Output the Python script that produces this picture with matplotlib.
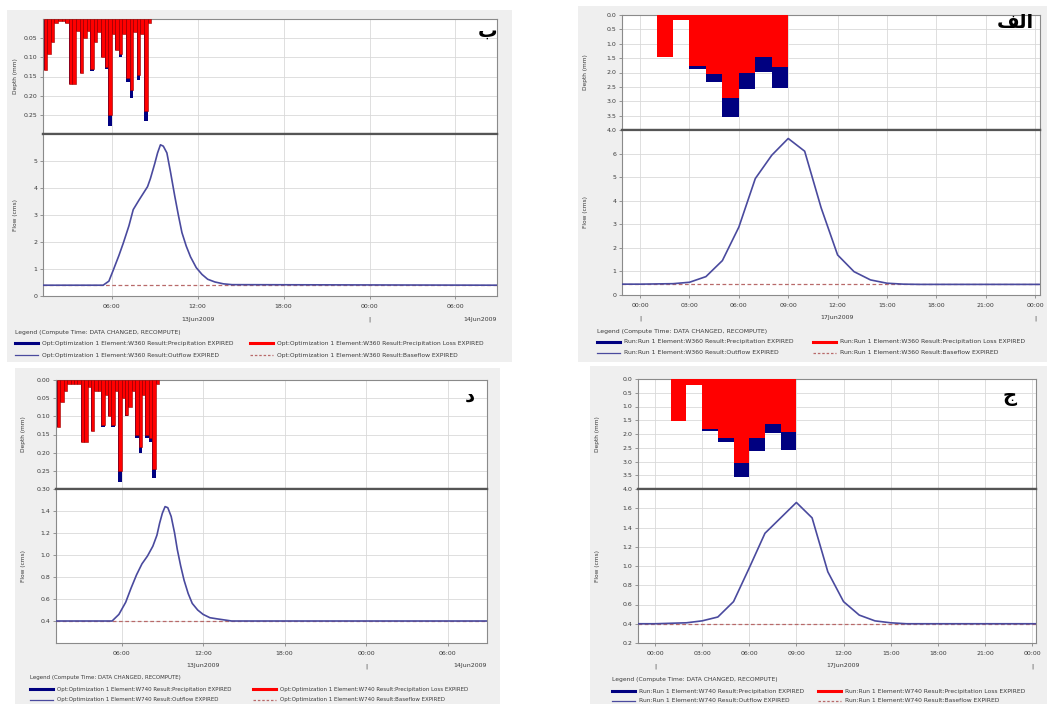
import matplotlib
matplotlib.use('Agg')
import matplotlib.pyplot as plt
from matplotlib.patches import Rectangle
from matplotlib.lines import Line2D
from matplotlib import transforms

W, H = 1047, 704

# ---------------- data ----------------
# panel "ب" (top left) - 13Jun2009, 15 min rain, W360
b_rain_hours = [1.25, 1.5, 1.75, 2.0, 2.25, 2.5, 2.75, 3.0, 3.25, 3.5,
                3.75, 4.0, 4.25, 4.5, 4.75, 5.0, 5.25, 5.5, 5.75, 6.0,
                6.25, 6.5, 6.75, 7.0, 7.25, 7.5, 7.75, 8.0, 8.25, 8.5]
b_precip = [0.134, 0.09, 0.06, 0.01, 0.005, 0.005, 0.01, 0.17, 0.17, 0.03,
            0.14, 0.05, 0.03, 0.135, 0.06, 0.035, 0.10, 0.13, 0.28, 0.04,
            0.08, 0.10, 0.04, 0.165, 0.205, 0.035, 0.16, 0.04, 0.265, 0.01]
b_loss = [0.134, 0.09, 0.06, 0.01, 0.005, 0.005, 0.01, 0.17, 0.17, 0.03,
          0.14, 0.05, 0.03, 0.13, 0.06, 0.035, 0.10, 0.125, 0.25, 0.04,
          0.08, 0.09, 0.04, 0.155, 0.185, 0.035, 0.145, 0.04, 0.24, 0.01]
b_flow_hours = [1.2, 5.4, 5.8, 6.1, 6.5, 6.8, 7.2, 7.5, 7.9, 8.2, 8.5, 8.7,
                9.0, 9.2, 9.4, 9.6, 9.85, 10.1, 10.4, 10.65, 10.9, 11.2,
                11.5, 11.9, 12.3, 12.7, 13.2, 13.8, 14.4, 32.9]
b_outflow = [0.4, 0.4, 0.55, 0.95, 1.5, 1.95, 2.6, 3.2, 3.55, 3.8, 4.05,
             4.35, 4.9, 5.3, 5.6, 5.55, 5.3, 4.6, 3.7, 3.0, 2.35, 1.85,
             1.45, 1.05, 0.8, 0.62, 0.52, 0.45, 0.42, 0.4]
b_baseflow = 0.4

# panel "الف" (top right) - 17Jun2009, hourly rain, W360
a_rain_hours = [1, 2, 3, 4, 5, 6, 7, 8]
a_precip = [1.46, 0.17, 1.88, 2.32, 3.56, 2.59, 1.97, 2.55]
a_loss = [1.46, 0.17, 1.77, 2.05, 2.90, 2.03, 1.47, 1.80]
a_flow_hours = [-1.1, 0, 1, 2, 3, 4, 5, 6, 7, 8, 9, 10, 11, 12, 13, 14,
                15, 16, 17, 24.3]
a_outflow = [0.46, 0.46, 0.47, 0.48, 0.54, 0.78, 1.46, 2.88, 4.94, 5.93,
             6.64, 6.1, 3.7, 1.7, 0.99, 0.64, 0.5, 0.46, 0.45, 0.45]
a_baseflow = 0.45

# panel "د" (bottom left) - 13Jun2009, 15 min rain, W740
d_rain_hours = b_rain_hours
d_precip = [0.13, 0.06, 0.03, 0.01, 0.01, 0.01, 0.01, 0.17, 0.17, 0.02,
            0.14, 0.03, 0.03, 0.13, 0.04, 0.10, 0.13, 0.03, 0.28, 0.05,
            0.10, 0.075, 0.03, 0.16, 0.20, 0.04, 0.16, 0.17, 0.27, 0.01]
d_loss = [0.13, 0.06, 0.03, 0.01, 0.01, 0.01, 0.01, 0.17, 0.17, 0.02,
          0.14, 0.03, 0.03, 0.125, 0.04, 0.10, 0.125, 0.03, 0.25, 0.05,
          0.095, 0.075, 0.03, 0.15, 0.185, 0.04, 0.15, 0.16, 0.245, 0.01]
d_flow_hours = [1.17, 5.3, 5.8, 6.3, 6.7, 7.1, 7.5, 7.9, 8.3, 8.6, 8.8,
                9.0, 9.2, 9.4, 9.65, 9.9, 10.1, 10.35, 10.6, 10.9, 11.2,
                11.6, 12.0, 12.5, 13.0, 14.1, 32.9]
d_outflow = [0.4, 0.4, 0.46, 0.57, 0.7, 0.82, 0.92, 0.99, 1.08, 1.18, 1.29,
             1.38, 1.44, 1.43, 1.35, 1.2, 1.05, 0.9, 0.77, 0.65, 0.56,
             0.5, 0.46, 0.43, 0.42, 0.4, 0.4]
d_baseflow = 0.4

# panel "ج" (bottom right) - 17Jun2009, hourly rain, W740
c_rain_hours = [1, 2, 3, 4, 5, 6, 7, 8]
c_precip = [1.54, 0.22, 1.90, 2.30, 3.55, 2.60, 1.97, 2.59]
c_loss = [1.54, 0.22, 1.80, 2.16, 3.05, 2.16, 1.62, 1.94]
c_flow_hours = [-1.08, 0, 1, 2, 3, 4, 5, 6, 7, 8, 9, 10, 11, 12, 13, 14,
                15, 16, 17, 24.25]
c_outflow = [0.4, 0.4, 0.405, 0.41, 0.43, 0.47, 0.63, 0.98, 1.34, 1.5,
             1.66, 1.5, 0.94, 0.63, 0.49, 0.43, 0.41, 0.4, 0.4, 0.4]
c_baseflow = 0.4

# ticks / labels
day_ticks = [6, 12, 18, 24, 30]
day_labels = ['06:00', '12:00', '18:00', '00:00', '06:00']
hour_ticks = [0, 3, 6, 9, 12, 15, 18, 21, 24]
hour_labels = ['00:00', '03:00', '06:00', '09:00', '12:00', '15:00',
               '18:00', '21:00', '00:00']
b_depth_ticks = [0.05, 0.10, 0.15, 0.20, 0.25]
d_depth_ticks = [0.00, 0.05, 0.10, 0.15, 0.20, 0.25, 0.30]
hourly_depth_ticks = [0.0, 0.5, 1.0, 1.5, 2.0, 2.5, 3.0, 3.5, 4.0]
b_flow_ticks = [0, 1, 2, 3, 4, 5]
a_flow_ticks = [0, 1, 2, 3, 4, 5, 6]
d_flow_ticks = [0.4, 0.6, 0.8, 1.0, 1.2, 1.4]
c_flow_ticks = [0.2, 0.4, 0.6, 0.8, 1.0, 1.2, 1.4, 1.6]

legend_title = 'Legend (Compute Time: DATA CHANGED, RECOMPUTE)'
result_names = ['Precipitation', 'Precipitation Loss', 'Outflow', 'Baseflow']

C_PRECIP = '#000080'
C_LOSS = '#ff0000'
C_FLOW = '#4a4a9e'
C_BASE = '#b86a6a'
C_GRID = '#d9d9d9'
C_SPINE = '#8a8a8a'
C_TEXT = '#3a3a3a'

fig = plt.figure(figsize=(W / 100, H / 100), dpi=100)
fig.patch.set_facecolor('white')


def fx(x):
    return x / W


def fy(y):
    return 1 - y / H


def px_axes(left, top, right, bottom):
    return fig.add_axes([fx(left), fy(bottom), (right - left) / W, (bottom - top) / H])


def style(ax):
    ax.set_facecolor('white')
    ax.grid(True, color=C_GRID, lw=0.6, zorder=0)
    ax.set_axisbelow(True)
    for s in ax.spines.values():
        s.set_color(C_SPINE)
        s.set_linewidth(0.8)
    ax.tick_params(labelsize=4.5, length=2, width=0.5, color='#707070',
                   labelcolor=C_TEXT, pad=2)


def draw_panel(box, hy_rect, fl_rect, rain_x, rain_w, precip, loss, depth_max,
               depth_ticks, flow_x, outflow, baseflow, flow_lim, flow_ticks,
               xlim, xticks, xlabels, second_row, tag, tag_xy, run, element,
               legend_rows, legend_cols, edge_lw, legend_fs):
    fig.patches.append(Rectangle((fx(box[0]), fy(box[3])), (box[2] - box[0]) / W,
                                 (box[3] - box[1]) / H, transform=fig.transFigure,
                                 facecolor='#efefef', edgecolor='none', zorder=-5))
    # hyetograph
    ax1 = px_axes(*hy_rect)
    style(ax1)
    ax1.bar(rain_x, precip, width=rain_w, align='edge', color=C_PRECIP, lw=0, zorder=2)
    ax1.bar(rain_x, loss, width=rain_w, align='edge', color=C_LOSS,
            edgecolor='#9a0000', lw=edge_lw, zorder=3)
    ax1.set_xlim(*xlim)
    ax1.set_ylim(depth_max, 0)
    ax1.set_xticks(xticks)
    ax1.set_xticklabels([])
    ax1.tick_params(axis='x', length=0)
    ax1.set_yticks(depth_ticks)
    ax1.set_yticklabels(['%.2f' % v if depth_max < 1 else '%.1f' % v for v in depth_ticks])
    ax1.spines['bottom'].set_color('#555555')
    ax1.spines['bottom'].set_linewidth(1.6)

    # hydrograph
    ax2 = px_axes(*fl_rect)
    style(ax2)
    ax2.plot([xlim[0], xlim[1]], [baseflow, baseflow], color=C_BASE, lw=0.9,
             dashes=(3, 2), zorder=2)
    ax2.plot(flow_x, outflow, color=C_FLOW, lw=1.2, zorder=3)
    ax2.set_xlim(*xlim)
    ax2.set_ylim(*flow_lim)
    ax2.set_yticks(flow_ticks)
    ax2.set_yticklabels(['%g' % v if flow_lim[1] > 3 else '%.1f' % v for v in flow_ticks])
    ax2.set_xticks(xticks)
    ax2.set_xticklabels(xlabels)
    ax2.tick_params(axis='x', pad=4)
    ax2.spines['top'].set_color('#555555')
    ax2.spines['top'].set_linewidth(1.6)
    tr = transforms.blended_transform_factory(ax2.transData, ax2.transAxes)
    for hx, txt, ha in second_row:
        ax2.annotate(txt, xy=(hx, 0), xycoords=tr, xytext=(0, -23),
                     textcoords='offset pixels', ha=ha, va='center',
                     fontsize=4.5, color=C_TEXT)

    # axis titles
    fig.text(fx(box[0] + 8), fy((hy_rect[1] + hy_rect[3]) / 2), 'Depth (mm)',
             rotation=90, ha='center', va='center', fontsize=4.2, color=C_TEXT)
    fig.text(fx(box[0] + 8), fy((fl_rect[1] + fl_rect[3]) / 2), 'Flow (cms)',
             rotation=90, ha='center', va='center', fontsize=4.2, color=C_TEXT)

    # panel tag
    fig.text(fx(tag_xy[0]), fy(tag_xy[1]), tag, ha='center', va='center',
             fontsize=14, fontweight='bold', color='black', family='DejaVu Sans')

    # legend
    fig.text(fx(legend_cols[0]), fy(legend_rows[0]), legend_title,
             ha='left', va='center', fontsize=legend_fs, color=C_TEXT)
    styles = [dict(color=C_PRECIP, lw=2.2), dict(color=C_LOSS, lw=2.2),
              dict(color=C_FLOW, lw=0.9), dict(color=C_BASE, lw=0.9, dashes=(2, 1.5))]
    for k, name in enumerate(result_names):
        row = legend_rows[1 + k // 2]
        x0 = legend_cols[1 + 2 * (k % 2)]
        fig.add_artist(Line2D([fx(x0), fx(x0 + 23)], [fy(row), fy(row)],
                              transform=fig.transFigure, **styles[k]))
        fig.text(fx(x0 + 27), fy(row),
                 '%s Element:%s Result:%s EXPIRED' % (run, element, name),
                 ha='left', va='center', fontsize=legend_fs, color=C_TEXT)


# panel ب
draw_panel(box=(7, 10, 512, 362), hy_rect=(43, 19, 497, 134), fl_rect=(43, 134, 497, 296),
           rain_x=b_rain_hours, rain_w=0.25, precip=b_precip, loss=b_loss, depth_max=0.30,
           depth_ticks=b_depth_ticks, flow_x=b_flow_hours, outflow=b_outflow,
           baseflow=b_baseflow, flow_lim=(0, 6.0), flow_ticks=b_flow_ticks,
           xlim=(1.2, 32.9), xticks=day_ticks, xlabels=day_labels,
           second_row=[(12, '13Jun2009', 'center'), (24, '|', 'center'),
                       (32.9, '14Jun2009', 'right')],
           tag='\u0628', tag_xy=(488, 31), run='Opt:Optimization 1', element='W360',
           legend_rows=(332, 343, 355), legend_cols=(15, 15, None, 250),
           edge_lw=0.4, legend_fs=4.3)

# panel الف  (presentation forms, visual order)
draw_panel(box=(578, 6, 1047, 362), hy_rect=(622, 15, 1040, 130), fl_rect=(622, 130, 1040, 295),
           rain_x=a_rain_hours, rain_w=1.0, precip=a_precip, loss=a_loss, depth_max=4.0,
           depth_ticks=hourly_depth_ticks, flow_x=a_flow_hours, outflow=a_outflow,
           baseflow=a_baseflow, flow_lim=(0, 7.0), flow_ticks=a_flow_ticks,
           xlim=(-1.1, 24.3), xticks=hour_ticks, xlabels=hour_labels,
           second_row=[(0, '|', 'center'), (12, '17Jun2009', 'center'), (24, '|', 'center')],
           tag='\ufed2\ufedf\u0627', tag_xy=(1015, 23), run='Run:Run 1', element='W360',
           legend_rows=(331, 342, 353), legend_cols=(597, 597, None, 813),
           edge_lw=0, legend_fs=4.4)

# panel د
draw_panel(box=(15, 368, 500, 704), hy_rect=(56, 380, 487, 489), fl_rect=(56, 489, 487, 643),
           rain_x=d_rain_hours, rain_w=0.25, precip=d_precip, loss=d_loss, depth_max=0.30,
           depth_ticks=d_depth_ticks, flow_x=d_flow_hours, outflow=d_outflow,
           baseflow=d_baseflow, flow_lim=(0.2, 1.6), flow_ticks=d_flow_ticks,
           xlim=(1.17, 32.9), xticks=day_ticks, xlabels=day_labels,
           second_row=[(12, '13Jun2009', 'center'), (24, '|', 'center'),
                       (32.9, '14Jun2009', 'right')],
           tag='\u062f', tag_xy=(470, 396), run='Opt:Optimization 1', element='W740',
           legend_rows=(677, 689, 700), legend_cols=(30, 30, None, 253),
           edge_lw=0.4, legend_fs=4.0)

# panel ج
draw_panel(box=(590, 366, 1047, 704), hy_rect=(638, 379, 1036, 489), fl_rect=(638, 489, 1036, 643),
           rain_x=c_rain_hours, rain_w=1.0, precip=c_precip, loss=c_loss, depth_max=4.0,
           depth_ticks=hourly_depth_ticks, flow_x=c_flow_hours, outflow=c_outflow,
           baseflow=c_baseflow, flow_lim=(0.2, 1.8), flow_ticks=c_flow_ticks,
           xlim=(-1.08, 24.25), xticks=hour_ticks, xlabels=hour_labels,
           second_row=[(0, '|', 'center'), (12, '17Jun2009', 'center'), (24, '|', 'center')],
           tag='\u062c', tag_xy=(1010, 396), run='Run:Run 1', element='W740',
           legend_rows=(680, 691, 701), legend_cols=(612, 612, None, 818),
           edge_lw=0, legend_fs=4.3)

fig.savefig('out.png', dpi=100)
